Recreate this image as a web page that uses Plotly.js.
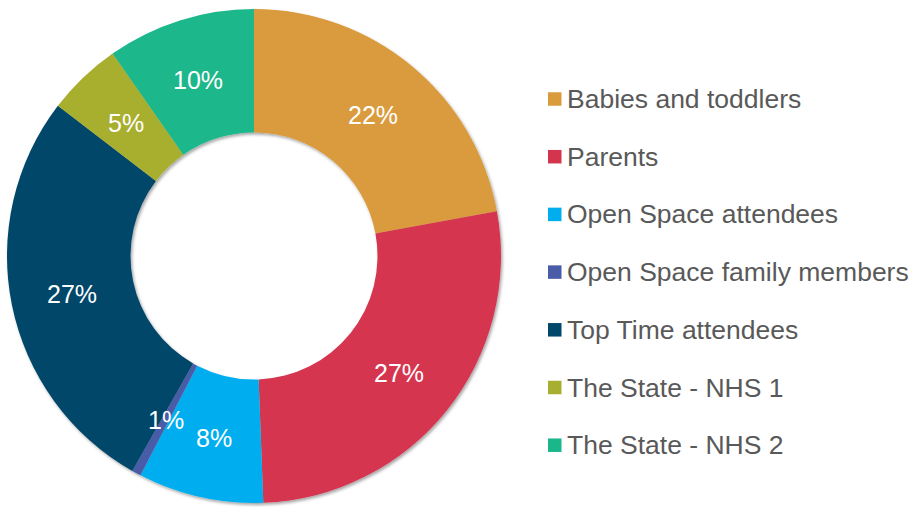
<!DOCTYPE html>
<html>
<head>
<meta charset="utf-8">
<script src="https://cdn.plot.ly/plotly-3.0.1.min.js"></script>
<style>
html,body{margin:0;padding:0;background:#fff;}
#chart{width:914px;height:507px;}
</style>
</head>
<body>
<div id="chart"></div>
<script>
const categories = ["Babies and toddlers","Parents","Open Space attendees","Open Space family members","Top Time attendees","The State - NHS 1","The State - NHS 2"];
const values = [22.1, 27.3, 8.2, 0.6, 27.2, 4.9, 9.7];
const colors = ["#D99B3C","#D5344F","#00AEEF","#4A5BA8","#00476A","#A8AE2F","#1AB78A"];

const W = 914, H = 507;
const cx = 254, cy = 256, R = 247, hole = 0.5;
const total = values.reduce((a,b)=>a+b,0);
const FONT = 'Liberation Sans, Arial, sans-serif';

const trace = {
  type:'pie',
  labels:categories,
  values:values,
  sort:false,
  direction:'clockwise',
  rotation:0,
  hole:hole,
  marker:{colors:colors, line:{width:0}},
  textinfo:'none',
  domain:{x:[(cx-R)/W,(cx+R)/W], y:[(H-cy-R)/H,(H-cy+R)/H]},
  showlegend:false,
  hoverinfo:'label+percent'
};

const annotations = [];
// percent labels at each slice's mid-angle, mid-ring radius (derived from values)
let cum = 0;
values.forEach((v,i)=>{
  const mid = (cum + v/2)/total;
  cum += v;
  const ang = mid*2*Math.PI;
  const r = R*(1+hole)/2;
  annotations.push({
    xref:'paper', yref:'paper',
    x:(cx + r*Math.sin(ang))/W,
    y:(H - (cy - r*Math.cos(ang)) - 1)/H,
    text: Math.round(v/total*100)+'%',
    showarrow:false, xanchor:'center', yanchor:'middle',
    font:{family:FONT, size:25, color:'#ffffff'}
  });
});

// custom legend
const legX = 548, legY0 = 99, legStep = 57.7, sq = 13.5;
const shapes = [];
categories.forEach((c,i)=>{
  const y = legY0 + i*legStep;
  shapes.push({type:'rect', xref:'paper', yref:'paper',
    x0:legX/W, x1:(legX+sq)/W, y0:(H-(y+sq/2))/H, y1:(H-(y-sq/2))/H,
    fillcolor:colors[i], line:{width:0}});
  annotations.push({xref:'paper', yref:'paper', x:(legX+sq+3)/W, y:(H-y)/H,
    text:c, showarrow:false, xanchor:'left', yanchor:'middle',
    font:{family:FONT, size:26.5, color:'#595959'}});
});

const layout = {
  width:W, height:H,
  margin:{l:0,r:0,t:0,b:0},
  paper_bgcolor:'#ffffff',
  showlegend:false,
  annotations:annotations,
  shapes:shapes
};

Plotly.newPlot('chart',[trace],layout,{displayModeBar:false, staticPlot:true}).then(gd=>{
  // subtle drop shadow like the reference
  const svg = gd.querySelector('.main-svg');
  const NS = 'http://www.w3.org/2000/svg';
  let defs = svg.querySelector('defs');
  if(!defs){ defs = document.createElementNS(NS,'defs'); svg.insertBefore(defs, svg.firstChild); }
  const f = document.createElementNS(NS,'filter');
  f.setAttribute('id','pieShadow');
  f.setAttribute('x','-10%'); f.setAttribute('y','-10%');
  f.setAttribute('width','120%'); f.setAttribute('height','120%');
  const ds = document.createElementNS(NS,'feDropShadow');
  ds.setAttribute('dx','1.5'); ds.setAttribute('dy','2');
  ds.setAttribute('stdDeviation','1.8');
  ds.setAttribute('flood-color','#000'); ds.setAttribute('flood-opacity','0.35');
  f.appendChild(ds); defs.appendChild(f);
  const pl = svg.querySelector('.pielayer');
  if(pl) pl.setAttribute('filter','url(#pieShadow)');
});
</script>
</body>
</html>
